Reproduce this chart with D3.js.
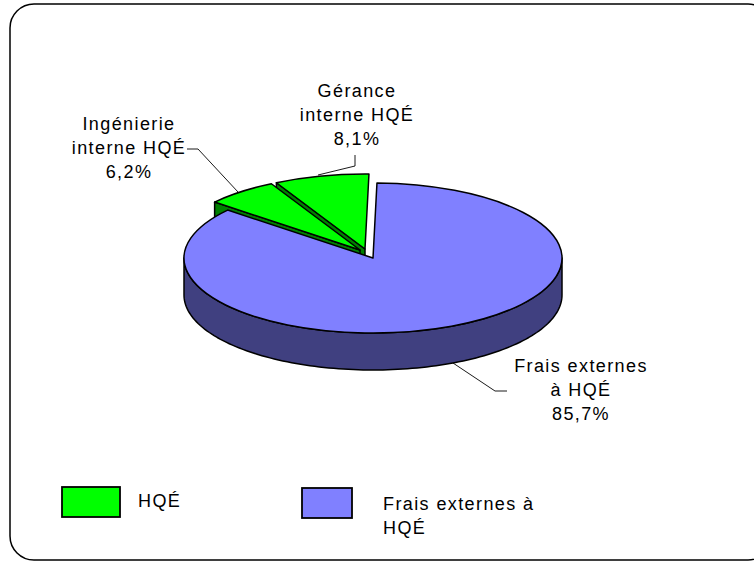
<!DOCTYPE html>
<html>
<head>
<meta charset="utf-8">
<script src="https://cdn.jsdelivr.net/npm/d3@7"></script>
<style>
  html, body { margin: 0; padding: 0; background: #fff; overflow: hidden; }
  text { font-family: "Liberation Sans", Arial, sans-serif; font-size: 18px; fill: #000; letter-spacing: 1.4px; }
</style>
</head>
<body>
<script>
// Data
const slice_names = ['Frais externes à HQÉ', 'Ingénierie interne HQÉ', 'Gérance interne HQÉ'];
const slice_values = [85.7, 6.2, 8.1];
const label_lines = [
    ['Frais externes', 'à HQÉ', '85,7%'],
    ['Ingénierie', 'interne HQÉ', '6,2%'],
    ['Gérance', 'interne HQÉ', '8,1%']
];
const legend_names = ['HQÉ', 'Frais externes à HQÉ'];

// Layout + colors
const svg_width = 754, svg_height = 562;
const rx = 189, ry = 75, depth = 37;
const cx = 373, cy = 258;
const top_colors = ['#8080ff', '#00ff00', '#00ff00'];
const side_colors = ['#404080', '#008000', '#008000'];
const explode = [[0, 0], [-13, -8], [-8, -9]];
const label_pos = [[581, 372], [129, 130], [357, 97]];
const leaders = [
    [[453, 363], [495, 391], [507, 391]],
    [[187, 149], [198, 149], [238, 192]],
    [[355, 155], [355, 166], [318, 175]]
];

const svg = d3.select('body').append('svg')
    .attr('width', svg_width)
    .attr('height', svg_height)
    .style('display', 'block');

// frame, runs off the right side of the picture
svg.append('rect')
    .attr('x', 10).attr('y', 4)
    .attr('width', 762).attr('height', 556)
    .attr('rx', 24)
    .attr('fill', '#fff')
    .attr('stroke', '#000')
    .attr('stroke-width', 1.5);

const pie = d3.pie().sort(null).startAngle(1.2 * Math.PI / 180)
    .endAngle(361.2 * Math.PI / 180);
const slices = pie(slice_values);

const arc = d3.arc().innerRadius(0).outerRadius(rx);
const line = d3.line();

// point on the top ellipse, angle clockwise from 12 o'clock
const rim = a => [rx * Math.sin(a), -ry * Math.cos(a)];

// wall under one radial edge
function radial_wall(a){
    const p = rim(a);
    return line([[0, 0], p, [p[0], p[1] + depth], [0, depth]]) + 'Z';
}

// outer wall of the part of a slice facing the viewer
function outer_wall(d){
    const a0 = Math.max(d.startAngle, Math.PI / 2);
    const a1 = Math.min(d.endAngle, Math.PI * 1.5);
    const angles = d3.range(0, 121).map(i => a0 + (a1 - a0) * i / 120);
    const upper = angles.map(rim);
    const lower = angles.map(rim).map(p => [p[0], p[1] + depth]).reverse();
    return line(upper.concat(lower)) + 'Z';
}

// back to front: Gérance, Ingénierie, Frais externes
[2, 1, 0].forEach(i => {
    const d = slices[i];
    const g = svg.append('g')
        .attr('transform', `translate(${cx + explode[i][0]},${cy + explode[i][1]})`);

    if(i === 0){
        g.append('path')
            .attr('d', outer_wall(d))
            .attr('fill', side_colors[i])
            .attr('stroke', '#000')
            .attr('stroke-width', 1.5)
            .attr('stroke-linejoin', 'round');
    } else {
        g.append('path')
            .attr('d', radial_wall(d.startAngle))
            .attr('fill', side_colors[i])
            .attr('stroke', '#000')
            .attr('stroke-width', 1.5)
            .attr('stroke-linejoin', 'round');
    }

    g.append('path')
        .attr('d', arc(d))
        .attr('transform', `scale(1,${ry / rx})`)
        .attr('fill', top_colors[i])
        .attr('stroke', '#000')
        .attr('stroke-width', 1.5)
        .attr('stroke-linejoin', 'round')
        .attr('vector-effect', 'non-scaling-stroke')
        .append('title').text(slice_names[i]);
});

// leader lines
leaders.forEach(pts => {
    svg.append('path')
        .attr('d', line(pts))
        .attr('fill', 'none')
        .attr('stroke', '#000')
        .attr('stroke-width', 0.9);
});

// data labels
label_lines.forEach((lines, i) => {
    svg.append('text')
        .attr('text-anchor', 'middle')
        .selectAll('tspan')
        .data(lines)
        .join('tspan')
        .attr('x', label_pos[i][0])
        .attr('y', (d, j) => label_pos[i][1] + j * 24)
        .text(d => d);
});

// legend
const legend_rects = [[62, 487, 58, 30], [302, 488, 50, 30]];
legend_rects.forEach((r, i) => {
    svg.append('rect')
        .attr('x', r[0]).attr('y', r[1])
        .attr('width', r[2]).attr('height', r[3])
        .attr('fill', top_colors[i === 0 ? 1 : 0])
        .attr('stroke', '#000')
        .attr('stroke-width', 1.8);
});
svg.append('text').attr('x', 138).attr('y', 507).text(legend_names[0]);
svg.append('text').selectAll('tspan')
    .data(['Frais externes à', 'HQÉ'])
    .join('tspan')
    .attr('x', 383)
    .attr('y', (d, j) => 510 + j * 24)
    .text(d => d);
</script>
</body>
</html>
